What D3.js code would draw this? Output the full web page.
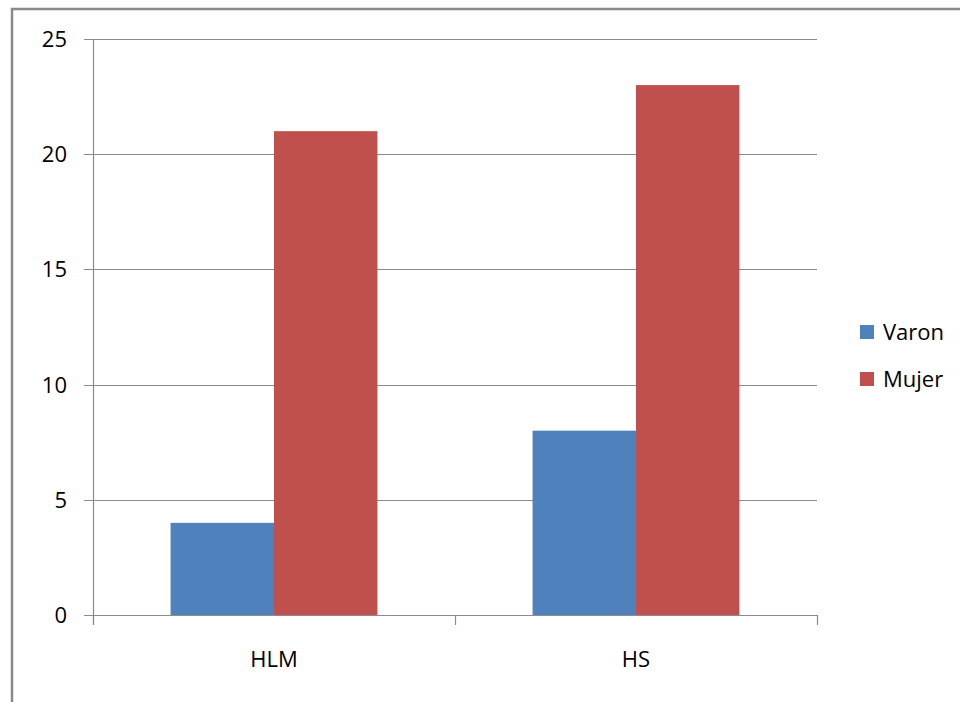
<!DOCTYPE html>
<html lang="es">
<head>
<meta charset="utf-8">
<script src="https://cdn.jsdelivr.net/npm/d3@7"></script>
<style>
  html, body { margin: 0; padding: 0; background: #fff; }
  svg { display: block; }
  text { font-family: "Open Sans", "Liberation Sans", sans-serif; fill: #000; }
</style>
</head>
<body>
<script>
  // data
  const categories = ['HLM', 'HS']
  const seriesNames = ['Varon', 'Mujer']
  const varon = [4, 8]
  const mujer = [21, 23]
  const yTicks = [0, 5, 10, 15, 20, 25]
  const colors = ['#4F81BD', '#C0504D']

  const w = 960
  const h = 702
  const plot = {left: 93, top: 39, right: 817, bottom: 615}

  const svg = d3.select('body')
    .append('svg')
    .attr('width', w)
    .attr('height', h)

  // outer chart border
  svg.append('rect')
    .attr('x', 12).attr('y', 9)
    .attr('width', w + 20).attr('height', h + 20)
    .attr('fill', 'none')
    .attr('stroke', '#8a8a8a')
    .attr('stroke-width', 2.5)

  const y = d3.scaleLinear().domain([0, 25]).range([plot.bottom, plot.top])
  const x = d3.scaleBand().domain(categories).range([plot.left, plot.right])
  // excel gap width 150%: bars take 2 of 3.5 slots
  const inner = d3.scaleBand().domain(seriesNames)
    .range([0, x.bandwidth()])
    .paddingOuter(0.75).paddingInner(0)

  // gridlines
  svg.append('g')
    .selectAll('line')
    .data(yTicks)
    .enter()
    .append('line')
    .attr('x1', plot.left - 9)
    .attr('x2', plot.right)
    .attr('y1', d => Math.round(y(d)) + 0.5)
    .attr('y2', d => Math.round(y(d)) + 0.5)
    .style('stroke', '#8c8c8c')
    .style('stroke-width', 1.2)

  // y labels
  svg.append('g')
    .selectAll('text')
    .data(yTicks)
    .enter()
    .append('text')
    .attr('x', 67)
    .attr('y', d => y(d))
    .attr('dy', '0.36em')
    .attr('text-anchor', 'end')
    .style('font-size', '22px')
    .text(d => d)

  // bars
  const rows = categories.map((c, i) => [
    {cat: c, s: seriesNames[0], v: varon[i], color: colors[0]},
    {cat: c, s: seriesNames[1], v: mujer[i], color: colors[1]}
  ]).flat()

  svg.append('g')
    .selectAll('rect')
    .data(rows)
    .enter()
    .append('rect')
    .attr('x', d => x(d.cat) + inner(d.s))
    .attr('width', inner.bandwidth())
    .attr('y', d => y(d.v))
    .attr('height', d => y(0) - y(d.v))
    .style('fill', d => d.color)

  // axes lines
  svg.append('line')
    .attr('x1', plot.left + 0.5).attr('x2', plot.left + 0.5)
    .attr('y1', plot.top).attr('y2', plot.bottom + 10)
    .style('stroke', '#8c8c8c').style('stroke-width', 1.2)
  svg.append('line')
    .attr('x1', plot.left).attr('x2', plot.right)
    .attr('y1', plot.bottom + 0.5).attr('y2', plot.bottom + 0.5)
    .style('stroke', '#8c8c8c').style('stroke-width', 1.2)

  // category ticks on the boundaries
  const bounds = [plot.left, ...categories.map(c => x(c) + x.bandwidth())]
  svg.append('g')
    .selectAll('line')
    .data(bounds)
    .enter()
    .append('line')
    .attr('x1', d => Math.round(d) + 0.5).attr('x2', d => Math.round(d) + 0.5)
    .attr('y1', plot.bottom).attr('y2', plot.bottom + 10)
    .style('stroke', '#8c8c8c').style('stroke-width', 1.2)

  svg.append('g')
    .selectAll('text')
    .data(categories)
    .enter()
    .append('text')
    .attr('x', d => x(d) + x.bandwidth() / 2)
    .attr('y', 667)
    .attr('text-anchor', 'middle')
    .style('font-size', '22px')
    .text(d => d)

  // legend
  const legend = svg.append('g')
    .selectAll('g')
    .data(seriesNames)
    .enter()
    .append('g')
    .attr('transform', (d, i) => 'translate(860,' + (325 + i * 47) + ')')
  legend.append('rect')
    .attr('width', 14).attr('height', 14)
    .style('fill', (d, i) => colors[i])
  legend.append('text')
    .attr('x', 23).attr('y', 15)
    .style('font-size', '22px')
    .text(d => d)
</script>
</body>
</html>
